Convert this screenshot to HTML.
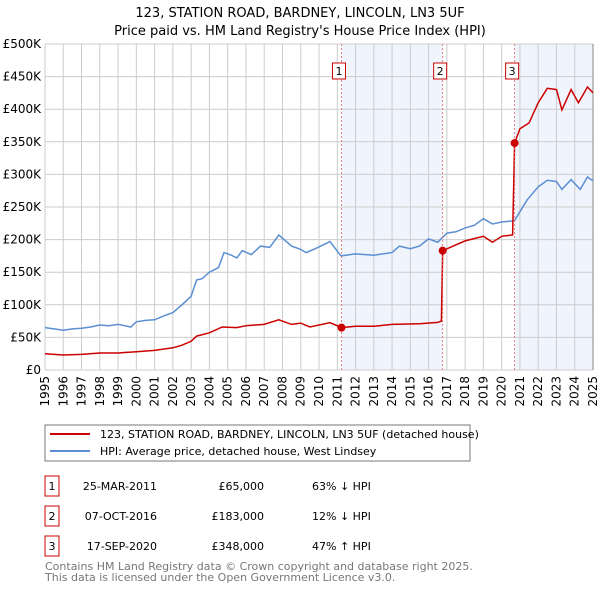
<!DOCTYPE html>
<html><head><meta charset="utf-8"><style>
body{margin:0;background:#fff;font-family:"Liberation Sans","DejaVu Sans",sans-serif;}
#wrap{position:relative;width:600px;height:590px;overflow:hidden}
svg text{font-family:"DejaVu Sans","Liberation Sans",sans-serif;}
</style></head><body>
<div id="wrap">
<svg id="chart" width="600" height="590">
<text x="300" y="17" text-anchor="middle" font-size="13">123, STATION ROAD, BARDNEY, LINCOLN, LN3 5UF</text>
<text x="300" y="35" text-anchor="middle" font-size="13">Price paid vs. HM Land Registry's House Price Index (HPI)</text>
<g id="bands"></g><g id="grid"></g><g id="axes"></g><g id="series"></g><g id="marks"></g>
<rect x="45" y="425" width="425" height="36" fill="#fff" stroke="#777"/>
<line x1="50" y1="434" x2="90" y2="434" stroke="#cc0000" stroke-width="2"/>
<text x="100" y="438" font-size="11">123, STATION ROAD, BARDNEY, LINCOLN, LN3 5UF (detached house)</text>
<line x1="50" y1="451" x2="90" y2="451" stroke="#5b8fd1" stroke-width="2"/>
<text x="100" y="455" font-size="11">HPI: Average price, detached house, West Lindsey</text>
<g id="table" font-size="11"></g>
<text x="45" y="570" font-size="11" fill="#777">Contains HM Land Registry data © Crown copyright and database right 2025.</text>
<text x="45" y="581" font-size="11" fill="#777">This data is licensed under the Open Government Licence v3.0.</text>
</svg>
</div>
<script>
const yearTicks=[1995,1996,1997,1998,1999,2000,2001,2002,2003,2004,2005,2006,2007,2008,2009,2010,2011,2012,2013,2014,2015,2016,2017,2018,2019,2020,2021,2022,2023,2024,2025];
const priceTicks=[0,50000,100000,150000,200000,250000,300000,350000,400000,450000,500000];
const priceTickLabels=["£0","£50K","£100K","£150K","£200K","£250K","£300K","£350K","£400K","£450K","£500K"];
const hpiYears=[1995,1995.5,1996,1996.5,1997,1997.5,1998,1998.5,1999,1999.7,2000,2000.5,2001,2001.5,2002,2002.5,2003,2003.3,2003.6,2004,2004.5,2004.8,2005.2,2005.5,2005.8,2006.3,2006.8,2007.3,2007.8,2008.5,2009,2009.3,2009.8,2010.6,2011.2,2012,2013,2013.5,2014,2014.4,2015,2015.5,2016,2016.5,2017,2017.5,2018,2018.5,2019,2019.5,2020,2020.7,2021.4,2022,2022.5,2023,2023.3,2023.8,2024.3,2024.7,2025];
const hpiValues=[65000,63000,61000,63000,64000,66000,69000,68000,70000,66000,74000,76000,77000,83000,88000,100000,113000,138000,140000,150000,157000,180000,176000,172000,183000,177000,190000,188000,207000,190000,185000,180000,186000,197000,175000,178000,176000,178000,180000,190000,186000,190000,201000,196000,210000,212000,218000,222000,232000,224000,227000,229000,261000,281000,291000,289000,277000,292000,277000,296000,290000];
const ppYears=[1995,1996,1997,1998,1999,2000,2001,2002,2002.5,2003,2003.3,2004,2004.7,2005.5,2006,2007,2007.8,2008.5,2009,2009.5,2010.6,2011.23,2012,2013,2014,2015.5,2016.5,2016.7,2016.77,2017.5,2018,2019,2019.5,2020,2020.6,2020.71,2021,2021.5,2022,2022.5,2023,2023.3,2023.8,2024.2,2024.7,2025];
const ppValues=[25000,23000,24000,26000,26000,28000,30000,34000,38000,44000,52000,57000,66000,65000,68000,70000,77000,70000,72000,66000,72500,65000,67000,67000,70000,71000,73000,75000,183000,192000,198000,205000,196000,205000,207000,348000,370000,379000,410000,432000,430000,399000,430000,410000,434000,425000];
const saleYears=[2011.23,2016.77,2020.71];
const saleValues=[65000,183000,348000];
const saleLabels=["1","2","3"];
const saleDates=["25-MAR-2011","07-OCT-2016","17-SEP-2020"];
const salePrices=["£65,000","£183,000","£348,000"];
const saleDiffs=["63% ↓ HPI","12% ↓ HPI","47% ↑ HPI"];

const NS="http://www.w3.org/2000/svg";
const X0=45,X1=593,Y0=370,Y1=44;
const xs=y=>X0+(y-1995)/(2025-1995)*(X1-X0);
const ys=v=>Y0-v/500000*(Y0-Y1);
function mk(parent,tag,attrs){const e=document.createElementNS(NS,tag);for(const k in attrs)e.setAttribute(k,attrs[k]);document.getElementById(parent).appendChild(e);return e;}

[[saleYears[0],saleYears[1]],[saleYears[2],2025]].forEach((b,i)=>{
 const r=mk('bands','rect',{x:xs(b[0]),y:Y1,width:xs(b[1])-xs(b[0]),height:Y0-Y1,fill:'#f0f4fd'});
 
 
});
yearTicks.forEach((yr)=>{
 const l=mk('grid','line',{x1:xs(yr),x2:xs(yr),y1:Y1,y2:Y0,stroke:'#cccccc'});
 
 
 const t=mk('axes','text',{x:0,y:0,'font-size':12,'text-anchor':'end',transform:`translate(${xs(yr)+4},${Y0+6}) rotate(-90)`});
 t.textContent=yr;
 
 
});
priceTicks.forEach((v,i)=>{
 const l=mk('grid','line',{x1:X0,x2:X1,y1:ys(v),y2:ys(v),stroke:'#cccccc'});
 
 
 const t=mk('axes','text',{x:41,y:ys(v)+4,'font-size':12,'text-anchor':'end'});
 t.textContent=priceTickLabels[i];
 
 
});
const pl=(xa,va)=>xa.map((x,i)=>xs(x).toFixed(1)+','+ys(va[i]).toFixed(1)).join(' ');
const hl=mk('series','polyline',{points:pl(hpiYears,hpiValues),fill:'none',stroke:'#5b8fd1','stroke-width':1.5});


const rl=mk('series','polyline',{points:pl(ppYears,ppValues),fill:'none',stroke:'#cc0000','stroke-width':1.5});


saleYears.forEach((yr,i)=>{
 const l=mk('marks','line',{x1:xs(yr),x2:xs(yr),y1:Y1,y2:Y0,stroke:'#e06666','stroke-dasharray':'2,2','stroke-width':0.8});
 
 
 const c=mk('marks','circle',{cx:xs(yr),cy:ys(saleValues[i]),r:4,fill:'#cc0000'});
 
 
 const b=mk('marks','rect',{x:xs(yr)-9,y:63,width:13,height:16,fill:'#fff',stroke:'#cc0000'});
 
 
 const t=mk('marks','text',{x:xs(yr)-2.5,y:75,'font-size':11,'text-anchor':'middle'});
 t.textContent=saleLabels[i];
 
 
 const ry=476+i*30;
 const tb=mk('table','rect',{x:45,y:ry,width:14,height:20,fill:'#fff',stroke:'#cc0000'});
 
 
 const cells=[[52,saleLabels[i],'middle'],[157,saleDates[i],'end'],[264,salePrices[i],'end'],[312,saleDiffs[i],'start']];
 cells.forEach(c2=>{const tt=mk('table','text',{x:c2[0],y:ry+14,'text-anchor':c2[2]});tt.textContent=c2[1];
  
  });
});
const rb=mk('axes','line',{x1:X1,x2:X1,y1:Y1,y2:Y0,stroke:'#888'});


</script>
</body></html>
